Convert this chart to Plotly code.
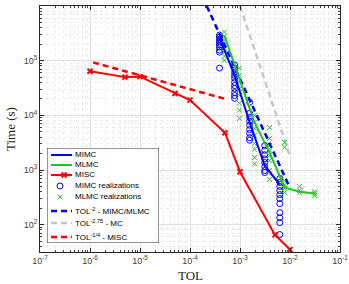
import plotly.graph_objects as go

# ---------------- data ----------------
misc_tol = [1e-6, 5e-6, 1e-5, 5e-5, 1e-4, 5e-4, 1e-3, 5e-3, 1e-2]
misc_time = [6.4e4, 5.0e4, 5.1e4, 2.5e4, 1.9e4, 4.8e3, 930, 65, 35]

mimc_tol = [3.9e-4, 7.8e-4, 1.56e-3, 3.125e-3, 6.25e-3]
mimc_time = [2.6e5, 5.4e4, 7.4e3, 1.2e3, 540]

mlmc_tol = [4.88e-4, 9.77e-4, 1.95e-3, 3.9e-3, 7.8e-3, 1.56e-2, 3.125e-2]
mlmc_time = [2.9e5, 4.4e4, 7.4e3, 2.1e3, 480, 400, 370]

mimc_real_times = [
    [2.94e5, 2.70e5, 2.48e5, 2.28e5, 2.09e5, 1.92e5, 1.77e5, 1.56e5, 1.43e5, 7.3e4],
    [8.3e4, 7.3e4, 6.1e4, 5.4e4, 4.8e4, 4.0e4, 3.5e4, 3.1e4, 2.6e4, 2.3e4, 2.05e4],
    [1.73e4, 1.09e4, 9.2e3, 7.8e3, 6.6e3, 5.5e3, 4.7e3, 3.9e3, 3.5e3],
    [2.8e3, 2.3e3, 1.9e3, 1.6e3, 1.37e3, 1.16e3, 980, 900],
    [700, 590, 500, 420, 355, 300, 243, 166, 134, 109, 66],
]
mlmc_real_times = [
    [3.33e5, 2.8e5, 2.38e5, 2.0e5, 1.7e5, 1.43e5, 1.21e5, 1.02e5],
    [7.3e4, 5.4e4, 4.0e4, 3.1e4, 2.33e4, 1.66e4, 1.24e4, 8.8e3],
    [1.0e4, 7.5e3, 5.8e3, 4.3e3, 3.06e3, 2.4e3, 1.7e3, 1.3e3],
    [6.0e3, 3.8e3, 2.8e3, 2.3e3, 1.85e3, 1.5e3, 980, 670],
    [3.2e3, 2.6e3, 640, 540, 460, 390],
    [500, 420, 385],
    [400, 370, 340],
]

ref_mimc_tol = [2.16e-4, 1e-2]      # TOL^-2
ref_mimc_time = [1.0e6, 468]
ref_mc_tol = [1e-3, 1e-2]           # TOL^-2.75
ref_mc_time = [1.0e6, 1778]
ref_misc_tol = [1.15e-6, 5e-4]      # TOL^-1/4
ref_misc_time = [9.3e4, 2.0e4]

x_tickvals = [1e-7, 1e-6, 1e-5, 1e-4, 1e-3, 1e-2, 1e-1]
x_ticktext = ["10<sup>-7</sup>", "10<sup>-6</sup>", "10<sup>-5</sup>", "10<sup>-4</sup>",
              "10<sup>-3</sup>", "10<sup>-2</sup>", "10<sup>-1</sup>"]
y_tickvals = [1e2, 1e3, 1e4, 1e5, 1e6]
y_ticktext = ["10<sup>2</sup>", "10<sup>3</sup>", "10<sup>4</sup>", "10<sup>5</sup>",
              "10<sup>6</sup>"]

legend_labels = [
    "MIMC", "MLMC", "MISC", "MIMC realizations", "MLMC realizations",
    "TOL<sup>-2</sup> - MIMC/MLMC", "TOL<sup>-2.75</sup> - MC", "TOL<sup>-1/4</sup> - MISC",
]

BLUE = "#0000ff"
GREEN = "#22c322"
RED = "#ff0000"
GRAY = "#c8c8c8"

# expand realizations
mimc_rx, mimc_ry = [], []
for t, ys in zip(mimc_tol, mimc_real_times):
    mimc_rx += [t] * len(ys)
    mimc_ry += ys
mlmc_rx, mlmc_ry = [], []
for t, ys in zip(mlmc_tol, mlmc_real_times):
    mlmc_rx += [t] * len(ys)
    mlmc_ry += ys

fig = go.Figure()
dash = "6px,4px"
fig.add_trace(go.Scatter(x=ref_mc_tol, y=ref_mc_time, mode="lines",
                         line=dict(color=GRAY, width=2.5, dash=dash)))
fig.add_trace(go.Scatter(x=mimc_rx, y=mimc_ry, mode="markers",
                         marker=dict(symbol="circle-open", size=6, color=BLUE,
                                     line=dict(width=1, color=BLUE))))
fig.add_trace(go.Scatter(x=mlmc_rx, y=mlmc_ry, mode="markers",
                         marker=dict(symbol="x-thin-open", size=5, color=GREEN,
                                     line=dict(width=1, color=GREEN))))
fig.add_trace(go.Scatter(x=ref_mimc_tol, y=ref_mimc_time, mode="lines",
                         line=dict(color=BLUE, width=2.5, dash=dash)))
fig.add_trace(go.Scatter(x=ref_misc_tol, y=ref_misc_time, mode="lines",
                         line=dict(color=RED, width=2.5, dash=dash)))
fig.add_trace(go.Scatter(x=mlmc_tol, y=mlmc_time, mode="lines",
                         line=dict(color=GREEN, width=2)))
fig.add_trace(go.Scatter(x=mimc_tol, y=mimc_time, mode="lines",
                         line=dict(color=BLUE, width=2)))
fig.add_trace(go.Scatter(x=misc_tol, y=misc_time, mode="lines+markers",
                         line=dict(color=RED, width=2),
                         marker=dict(symbol="x-thin-open", size=5, color=RED,
                                     line=dict(width=2, color=RED))))

# ---------------- manual legend (own small subplot, px units) ----------------
row_y = [7, 17, 27, 38, 49, 63, 75, 89]
styles = ["line", "line", "linemark", "circle", "x", "dash", "dash", "dash"]
colors = [BLUE, GREEN, RED, BLUE, GREEN, BLUE, GRAY, RED]
for kind, col, yy in zip(styles, colors, row_y):
    if kind in ("line", "linemark", "dash"):
        fig.add_trace(go.Scatter(
            x=[4, 25], y=[yy, yy], mode="lines", xaxis="x2", yaxis="y2",
            line=dict(color=col, width=2.5 if kind == "dash" else 2,
                      dash=dash if kind == "dash" else "solid")))
        if kind == "linemark":
            fig.add_trace(go.Scatter(
                x=[17], y=[yy], mode="markers", xaxis="x2", yaxis="y2",
                marker=dict(symbol="x-thin-open", size=5, color=col,
                            line=dict(width=2, color=col))))
    elif kind == "circle":
        fig.add_trace(go.Scatter(
            x=[13], y=[yy], mode="markers", xaxis="x2", yaxis="y2",
            marker=dict(symbol="circle-open", size=6, color=col,
                        line=dict(width=1, color=col))))
    else:
        fig.add_trace(go.Scatter(
            x=[13], y=[yy], mode="markers", xaxis="x2", yaxis="y2",
            marker=dict(symbol="x-thin-open", size=5, color=col,
                        line=dict(width=1, color=col))))

annotations = []
for lab, yy in zip(legend_labels, row_y):
    annotations.append(dict(
        x=26, y=yy, xref="x2", yref="y2", text=lab, showarrow=False,
        xanchor="left", yanchor="middle",
        font=dict(family="Liberation Sans", size=8, color="#000000")))

# axis titles
annotations.append(dict(x=0.5, y=-0.097, xref="paper", yref="paper", text="TOL",
                        showarrow=False, xanchor="center", yanchor="middle",
                        font=dict(family="Liberation Serif", size=13, color="#262626")))
annotations.append(dict(x=-0.1, y=0.5, xref="paper", yref="paper", text="Time (s)",
                        showarrow=False, xanchor="center", yanchor="middle", textangle=-90,
                        font=dict(family="Liberation Serif", size=13, color="#262626")))

shapes = [dict(type="rect", xref="x2", yref="y2", x0=0, x1=112, y0=0, y1=95,
               fillcolor="white", line=dict(color="#262626", width=1), layer="below")]

axis_common = dict(
    type="log", showline=True, linecolor="#262626", linewidth=1, mirror="allticks",
    ticks="inside", ticklen=4, tickcolor="#262626", automargin=False,
    showgrid=True, gridcolor="#e0e0e0", gridwidth=1, zeroline=False,
    tickfont=dict(family="Liberation Sans", size=9, color="#404040"),
    minor=dict(ticks="inside", ticklen=2, tickcolor="#404040", dtick="D1",
               showgrid=True, gridcolor="#ececec", griddash="dot", gridwidth=1),
)

fig.update_layout(
    width=349, height=284,
    margin=dict(l=40, r=9, t=6, b=32, autoexpand=False),
    paper_bgcolor="white", plot_bgcolor="white",
    showlegend=False,
    xaxis=dict(axis_common, range=[-7, -1], tickvals=x_tickvals, ticktext=x_ticktext),
    yaxis=dict(axis_common, range=[1.5, 6], tickvals=y_tickvals, ticktext=y_ticktext),
    xaxis2=dict(domain=[0.02333, 0.39667], range=[0, 112], visible=False,
                anchor="y2", fixedrange=True, automargin=False),
    yaxis2=dict(domain=[0.0366, 0.4228], range=[95, 0], visible=False,
                anchor="x2", fixedrange=True, automargin=False),
    annotations=annotations,
    shapes=shapes,
)

fig.write_html("out.html", config={"displayModeBar": False},
               post_script="document.body.style.margin='0';")
